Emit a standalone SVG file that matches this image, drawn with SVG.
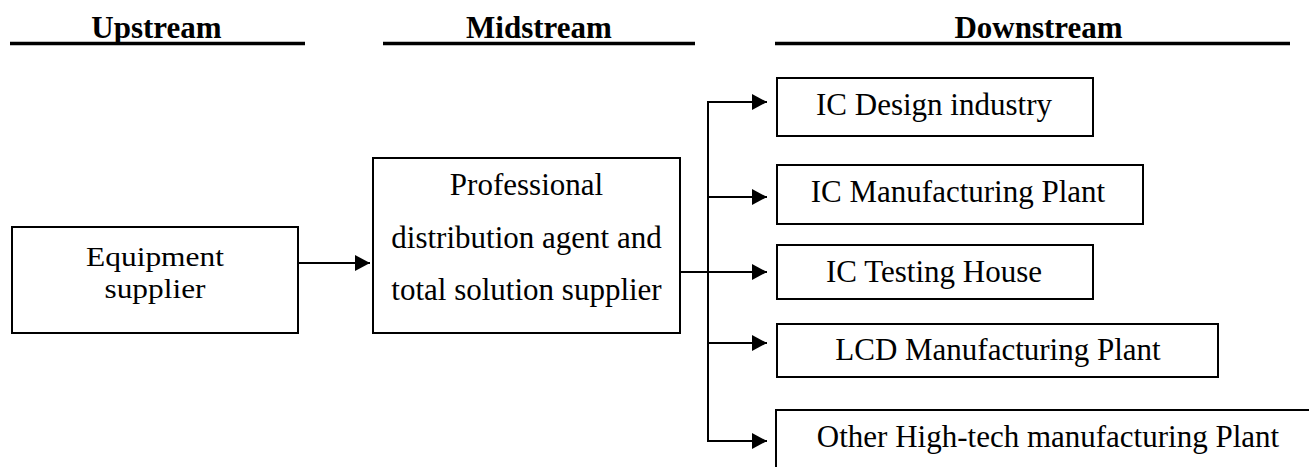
<svg xmlns="http://www.w3.org/2000/svg" width="1309" height="467" viewBox="0 0 1309 467">
<style>
.box{fill:#fff;stroke:#000;stroke-width:2}
.t{font-family:"Liberation Serif","Times New Roman",serif;font-size:31px;fill:#000;text-anchor:middle}
.s{font-family:"Liberation Serif","Times New Roman",serif;font-size:28px;fill:#000;text-anchor:middle}
.h{font-family:"Liberation Serif","Times New Roman",serif;font-size:31px;font-weight:bold;fill:#000;text-anchor:middle}
.hl{stroke:#000;stroke-width:3.5}
.c{stroke:#000;stroke-width:2;fill:none}
</style>
<defs>
<marker id="ah" markerUnits="userSpaceOnUse" markerWidth="16" markerHeight="16" refX="15" refY="8" orient="auto">
<path d="M0,0 L15,8 L0,16 Z" fill="#000"/>
</marker>
</defs>
<g id="headers">
<text class="h" x="156.5" y="38">Upstream</text>
<line class="hl" x1="10" y1="43.5" x2="305" y2="43.5"/>
<text class="h" x="539" y="38">Midstream</text>
<line class="hl" x1="383" y1="43.5" x2="695" y2="43.5"/>
<text class="h" x="1038.5" y="38">Downstream</text>
<line class="hl" x1="775" y1="43.5" x2="1290" y2="43.5"/>
</g>
<g id="connectors">
<line class="c" x1="298" y1="263" x2="370" y2="263" marker-end="url(#ah)"/>
<line class="c" x1="680" y1="272" x2="767" y2="272" marker-end="url(#ah)"/>
<polyline class="c" points="708,102 708,441"/>
<line class="c" x1="707" y1="102" x2="767" y2="102" marker-end="url(#ah)"/>
<line class="c" x1="708" y1="197" x2="767" y2="197" marker-end="url(#ah)"/>
<line class="c" x1="708" y1="343" x2="767" y2="343" marker-end="url(#ah)"/>
<line class="c" x1="707" y1="441" x2="767" y2="441" marker-end="url(#ah)"/>
</g>
<g id="equipment">
<rect class="box" x="12" y="227" width="286" height="106"/>
<text class="s" x="155" y="266" textLength="138" lengthAdjust="spacingAndGlyphs">Equipment</text>
<text class="s" x="155" y="298" textLength="101" lengthAdjust="spacingAndGlyphs">supplier</text>
</g>
<g id="midstream">
<rect class="box" x="373" y="158" width="307" height="175"/>
<text class="t" x="526.5" y="195">Professional</text>
<text class="t" x="526.5" y="248">distribution agent and</text>
<text class="t" x="526.5" y="300">total solution supplier</text>
</g>
<g id="ic-design">
<rect class="box" x="777" y="78" width="316" height="58"/>
<text class="t" x="934" y="115">IC Design industry</text>
</g>
<g id="ic-manufacturing">
<rect class="box" x="777" y="165" width="366" height="59"/>
<text class="t" x="958" y="202">IC Manufacturing Plant</text>
</g>
<g id="ic-testing">
<rect class="box" x="777" y="245" width="316" height="54"/>
<text class="t" x="934" y="282">IC Testing House</text>
</g>
<g id="lcd">
<rect class="box" x="777" y="324" width="441" height="53"/>
<text class="t" x="998" y="360">LCD Manufacturing Plant</text>
</g>
<g id="other">
<rect class="box" x="776" y="410" width="560" height="80"/>
<text class="t" x="1048" y="447">Other High-tech manufacturing Plant</text>
</g>
</svg>
